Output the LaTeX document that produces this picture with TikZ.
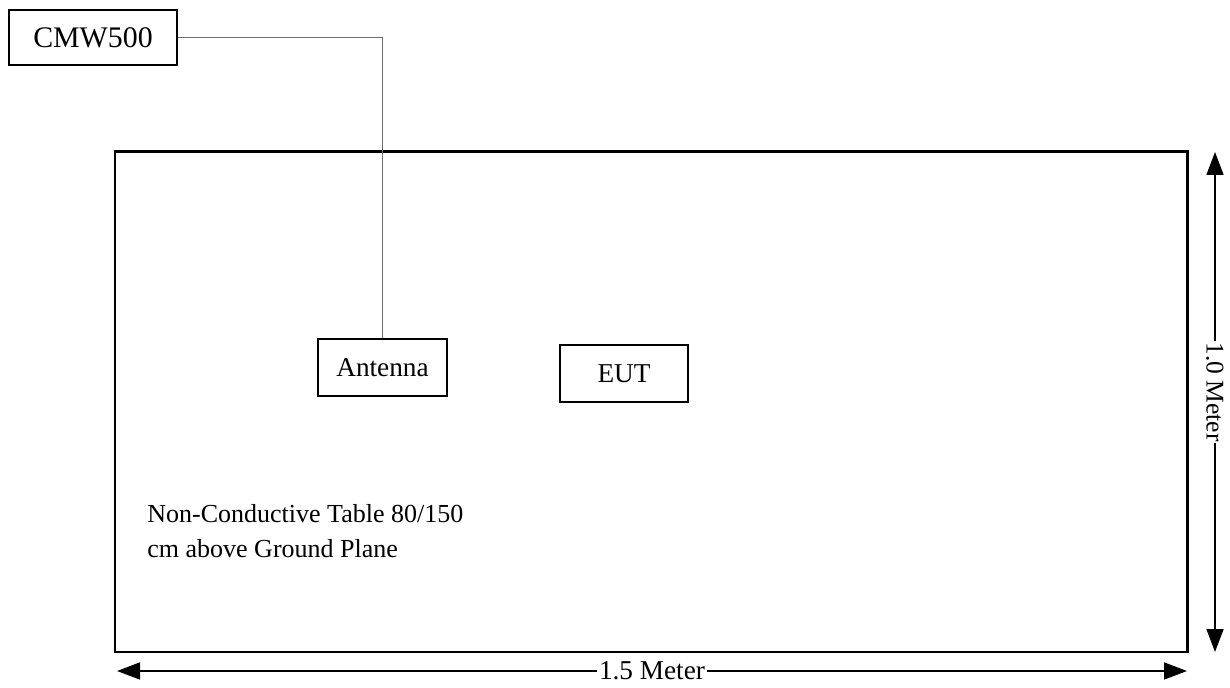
\documentclass[tikz,border=0pt]{standalone}
\usepackage{fontspec}
\setmainfont{Liberation Serif}
\usetikzlibrary{arrows.meta}
\definecolor{cablegray}{RGB}{110,110,110}

\begin{document}
\begin{tikzpicture}[
    every node/.style={font=\fontsize{15.5}{20}\selectfont},
    unitbox/.style={draw, line width=0.8pt, minimum height=1.14cm, inner sep=0pt},
    dimline/.style={{Triangle[length=0.46cm, width=0.34cm]}-{Triangle[length=0.46cm, width=0.34cm]}, line width=0.9pt}
]
\useasboundingbox (0,0) rectangle (24.6,13.74);

% Table outline
\draw[line width=1.7pt] (2.3,0.7) rectangle (23.74,10.7);

% Equipment boxes
\node[unitbox, minimum width=3.36cm, minimum height=1.1cm, font=\fontsize{17}{20}\selectfont] (cmw) at (1.86, 12.99) {CMW500};
\node[unitbox, minimum width=2.58cm] (antenna) at (7.65, 6.39) {Antenna};
\node[unitbox, minimum width=2.56cm] (eut) at (12.48, 6.27) {EUT};

% Cable
\draw[cablegray, line width=0.5pt] (cmw.east) -| (antenna.north);

% Table note
\node[anchor=west, align=left, inner sep=0pt, font=\fontsize{14.8}{20}\selectfont] (note) at (2.94, 3.11) {Non-Conductive Table 80/150\\cm above Ground Plane};

% Dimensions
\coordinate (hleft) at (2.34, 0.32);
\coordinate (hright) at (23.74, 0.32);
\coordinate (vtop) at (24.3, 10.7);
\coordinate (vbot) at (24.3, 0.7);
\draw[dimline] (hleft) -- node[fill=white, inner sep=1pt] (hlabel) {1.5 Meter} (hright);
\draw[dimline] (vtop) -- node[pos=0.48, fill=white, inner sep=1pt, rotate=-90, font=\fontsize{14.5}{17}\selectfont] (vlabel) {1.0 Meter} (vbot);
\end{tikzpicture}
\end{document}
